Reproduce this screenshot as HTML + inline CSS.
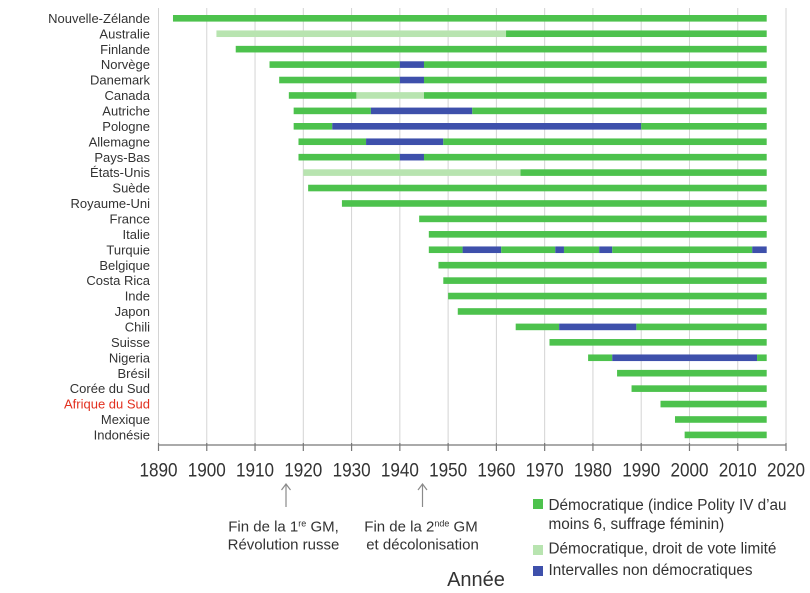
<!DOCTYPE html>
<html><head><meta charset="utf-8"><style>
html,body{margin:0;padding:0;background:#fff;}
svg{display:block;font-family:"Liberation Sans",sans-serif;}
</style></head><body>
<svg width="810" height="593" viewBox="0 0 810 593" xmlns="http://www.w3.org/2000/svg">
<g id="grid" stroke="#d4d4d4" stroke-width="1"></g>
<g id="bars"></g>
<g id="labels" font-size="13" fill="#333" text-anchor="end"></g>
<g id="axis"></g>
<!-- annotations -->
<g stroke="#8a8a8a" stroke-width="1.2" fill="none">
<line x1="286" y1="484" x2="286" y2="507"/>
<polyline points="281.5,490 286,484 290.5,490"/>
<line x1="422.5" y1="484" x2="422.5" y2="507"/>
<polyline points="418,490 422.5,484 427,490"/>
</g>
<g font-size="15" fill="#333" text-anchor="middle">
<text x="283.5" y="531.5">Fin de la 1<tspan font-size="9" dy="-5">re</tspan><tspan dy="5"> GM,</tspan></text>
<text x="283.5" y="549.5">Révolution russe</text>
<text x="421" y="531.5">Fin de la 2<tspan font-size="9" dy="-5">nde</tspan><tspan dy="5"> GM</tspan></text>
<text x="422.5" y="549.5">et décolonisation</text>
</g>
<text x="476" y="586" font-size="20" fill="#333" text-anchor="middle">Année</text>
<!-- legend -->
<rect x="533" y="499" width="10" height="10" fill="#4dc24d"/>
<rect x="533" y="545" width="10" height="10" fill="#b8e4b0"/>
<rect x="533" y="566" width="10" height="10" fill="#3e50ab"/>
<g font-size="15.3" fill="#333">
<text x="548.5" y="510">Démocratique (indice Polity IV d’au</text>
<text x="548.5" y="529">moins 6, suffrage féminin)</text>
<text x="548.5" y="553.5">Démocratique, droit de vote limité</text>
<text x="548.5" y="575">Intervalles non démocratiques</text>
</g>
</svg>
<script>
(function(){
var NS="http://www.w3.org/2000/svg";
function X(y){return 158.5+(y-1890)*4.827;}
function el(t,a,p,txt){var e=document.createElementNS(NS,t);for(var k in a)e.setAttribute(k,a[k]);if(txt!==undefined)e.textContent=txt;p.appendChild(e);return e;}
var grid=document.getElementById('grid'),bars=document.getElementById('bars'),labels=document.getElementById('labels'),axis=document.getElementById('axis');
for(var y=1890;y<=2020;y+=10){var x=X(y);el('line',{x1:x,y1:8,x2:x,y2:444},grid);}
var C={g:'#4dc24d',l:'#b8e4b0',b:'#3e50ab'};
var data=[
["Nouvelle-Zélande",[[1893,2016,'g']]],
["Australie",[[1902,1962,'l'],[1962,2016,'g']]],
["Finlande",[[1906,2016,'g']]],
["Norvège",[[1913,1940,'g'],[1940,1945,'b'],[1945,2016,'g']]],
["Danemark",[[1915,1940,'g'],[1940,1945,'b'],[1945,2016,'g']]],
["Canada",[[1917,1931,'g'],[1931,1945,'l'],[1945,2016,'g']]],
["Autriche",[[1918,1934,'g'],[1934,1955,'b'],[1955,2016,'g']]],
["Pologne",[[1918,1926,'g'],[1926,1990,'b'],[1990,2016,'g']]],
["Allemagne",[[1919,1933,'g'],[1933,1949,'b'],[1949,2016,'g']]],
["Pays-Bas",[[1919,1940,'g'],[1940,1945,'b'],[1945,2016,'g']]],
["États-Unis",[[1920,1965,'l'],[1965,2016,'g']]],
["Suède",[[1921,2016,'g']]],
["Royaume-Uni",[[1928,2016,'g']]],
["France",[[1944,2016,'g']]],
["Italie",[[1946,2016,'g']]],
["Turquie",[[1946,1953,'g'],[1953,1961,'b'],[1961,1972.2,'g'],[1972.2,1974,'b'],[1974,1981.3,'g'],[1981.3,1984,'b'],[1984,2013,'g'],[2013,2016,'b']]],
["Belgique",[[1948,2016,'g']]],
["Costa Rica",[[1949,2016,'g']]],
["Inde",[[1950,2016,'g']]],
["Japon",[[1952,2016,'g']]],
["Chili",[[1964,1973,'g'],[1973,1989,'b'],[1989,2016,'g']]],
["Suisse",[[1971,2016,'g']]],
["Nigeria",[[1979,1984,'g'],[1984,2014,'b'],[2014,2016,'g']]],
["Brésil",[[1985,2016,'g']]],
["Corée du Sud",[[1988,2016,'g']]],
["Afrique du Sud",[[1994,2016,'g']]],
["Mexique",[[1997,2016,'g']]],
["Indonésie",[[1999,2016,'g']]]
];
data.forEach(function(r,i){
 var cy=18.3+15.43*i;
 r[1].forEach(function(s){el('rect',{x:X(s[0]),y:cy-3.3,width:X(s[1])-X(s[0]),height:6.6,fill:C[s[2]]},bars);});
 var t=el('text',{x:150,y:cy+4.6},labels,r[0]);
 if(r[0]=="Afrique du Sud")t.setAttribute('fill','#e2301f');
});
el('line',{x1:158.5,y1:445,x2:X(2020),y2:445,stroke:'#777','stroke-width':1.2},axis);
for(var y=1890;y<=2020;y+=10){var x=X(y);
 el('line',{x1:x,y1:443,x2:x,y2:451,stroke:'#777','stroke-width':1.2},axis);
 el('text',{transform:'translate('+x+',476.5) scale(0.9,1)','font-size':19,fill:'#333','text-anchor':'middle'},axis,String(y));
}
})();
</script>
</body></html>
